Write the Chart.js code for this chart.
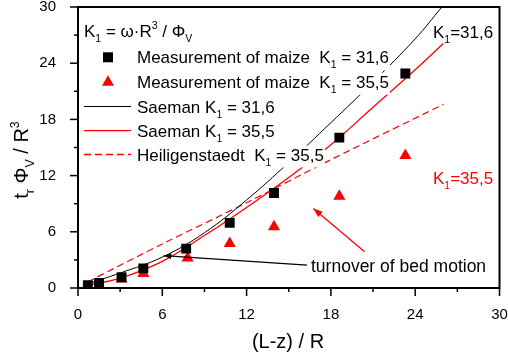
<!DOCTYPE html>
<html>
<head>
<meta charset="utf-8">
<script src="https://cdn.jsdelivr.net/npm/chart.js@4.4.1/dist/chart.umd.min.js"></script>
<style>
  body { margin: 0; background: #fff; }
</style>
</head>
<body>
<canvas id="chart" width="508" height="358"></canvas>
<script>
const xMaize316 = [0.7, 1.5, 3.1, 4.65, 7.7, 10.8, 13.95, 18.6, 23.3];
const yMaize316 = [0.3, 0.55, 1.15, 2.1, 4.2, 6.95, 10.15, 16.05, 22.9];
const xMaize355 = [1.5, 3.1, 4.65, 7.8, 10.8, 13.95, 18.6, 23.3];
const yMaize355 = [0.32, 0.95, 1.55, 3.2, 4.75, 6.55, 9.8, 14.15];

// model curves
const xSaeman316 = [0.7, 3, 6, 9, 12, 15, 18, 21, 24, 25.9];
const ySaeman316 = [0.45, 1.6, 3.3, 5.9, 9.4, 13.4, 17.65, 22.0, 26.6, 30];
const xSaeman355 = [0.7, 3, 6, 9, 12, 15, 18, 21, 24, 26];
const ySaeman355 = [0.3, 1.05, 2.85, 5.6, 8.6, 11.8, 15.3, 19.3, 23.3, 26.1];
const xHeilig = [0.7, 6, 12, 18, 26];
const yHeilig = [0.67, 4.7, 9.1, 13.7, 19.6];

// axis
const axisMin = 0;
const axisMax = 30;
const majorStep = 6;
const minorStep = 3;

const FONT = '"Liberation Sans", Arial, sans-serif';
const RED = '#ff0000';

function toPoints(xs, ys) {
  return xs.map((x, i) => ({ x: x, y: ys[i] }));
}

// text with sub- and superscripts: parts = [[text, 'n'|'sub'|'sup'], ...]
function richWidth(ctx, parts, size) {
  let w = 0;
  parts.forEach(([t, k]) => {
    ctx.font = (k === 'n' ? size : size * 0.62) + 'px ' + FONT;
    w += ctx.measureText(t).width;
  });
  return w;
}

function drawRich(ctx, parts, x, y, size, color, align) {
  const w = richWidth(ctx, parts, size);
  let cx = align === 'center' ? x - w / 2 : x;
  ctx.fillStyle = color;
  ctx.textBaseline = 'alphabetic';
  ctx.textAlign = 'left';
  parts.forEach(([t, k]) => {
    const s = k === 'n' ? size : size * 0.62;
    ctx.font = s + 'px ' + FONT;
    const dy = k === 'sub' ? size * 0.3 : (k === 'sup' ? -size * 0.45 : 0);
    ctx.fillText(t, cx, y + dy);
    cx += ctx.measureText(t).width;
  });
  return w;
}

function arrow(ctx, x1, y1, x2, y2, color, lw, head) {
  const a = Math.atan2(y2 - y1, x2 - x1);
  ctx.strokeStyle = color;
  ctx.fillStyle = color;
  ctx.lineWidth = lw;
  ctx.beginPath();
  ctx.moveTo(x1, y1);
  ctx.lineTo(x2, y2);
  ctx.stroke();
  ctx.beginPath();
  ctx.moveTo(x2, y2);
  ctx.lineTo(x2 - head * Math.cos(a - 0.35), y2 - head * Math.sin(a - 0.35));
  ctx.lineTo(x2 - head * Math.cos(a + 0.35), y2 - head * Math.sin(a + 0.35));
  ctx.closePath();
  ctx.fill();
}

// frame, ticks, titles, legend and annotations
const decorPlugin = {
  id: 'decor',
  afterDatasetsDraw(chart) {
    const ctx = chart.ctx;
    const area = chart.chartArea;
    const xs = chart.scales.x;
    const ys = chart.scales.y;
    ctx.save();

    // frame
    ctx.strokeStyle = '#000';
    ctx.lineWidth = 2;
    ctx.strokeRect(area.left, area.top, area.right - area.left, area.bottom - area.top);

    // ticks (outside, major + minor)
    ctx.lineWidth = 1.5;
    for (let v = axisMin; v <= axisMax; v += minorStep) {
      const len = v % majorStep === 0 ? 8 : 4;
      const px = xs.getPixelForValue(v);
      ctx.beginPath();
      ctx.moveTo(px, area.bottom);
      ctx.lineTo(px, area.bottom + len);
      ctx.stroke();
      const py = ys.getPixelForValue(v);
      ctx.beginPath();
      ctx.moveTo(area.left, py);
      ctx.lineTo(area.left - len, py);
      ctx.stroke();
    }

    // axis titles
    drawRich(ctx, [['(L-z) / R', 'n']], 288, 348, 20, '#000', 'center');
    ctx.save();
    ctx.translate(28, 160);
    ctx.rotate(-Math.PI / 2);
    drawRich(ctx, [['t', 'n'], ['r', 'sub'], [' \u03A6', 'n'], ['V', 'sub'], [' / R', 'n'], ['3', 'sup']], 0, 0, 20, '#000', 'center');
    ctx.restore();

    // legend
    const lx = 84;
    const tx = 137;
    const size = 17;
    const header = [['K', 'n'], ['1', 'sub'], [' = \u03C9\u00B7R', 'n'], ['3', 'sup'], [' / \u03A6', 'n'], ['V', 'sub']];
    ctx.fillStyle = '#fff';
    ctx.fillRect(lx - 1, 22, richWidth(ctx, header, size) + 2, 21);
    drawRich(ctx, header, lx, 37, size, '#000');

    const rows = [
      { parts: [['Measurement of maize  K', 'n'], ['1', 'sub'], [' = 31,6', 'n']], kind: 'square' },
      { parts: [['Measurement of maize  K', 'n'], ['1', 'sub'], [' = 35,5', 'n']], kind: 'triangle' },
      { parts: [['Saeman K', 'n'], ['1', 'sub'], [' = 31,6', 'n']], kind: 'black' },
      { parts: [['Saeman K', 'n'], ['1', 'sub'], [' = 35,5', 'n']], kind: 'red' },
      { parts: [['Heiligenstaedt  K', 'n'], ['1', 'sub'], [' = 35,5', 'n']], kind: 'dash' }
    ];
    const rowY = [57.3, 81.7, 106.5, 130.7, 154.5];
    rows.forEach((r, i) => {
      const cy = rowY[i];
      ctx.fillStyle = '#fff';
      ctx.fillRect(tx - 1, cy - 9, richWidth(ctx, r.parts, size) + 2, 22);
      drawRich(ctx, r.parts, tx, cy + 6, size, '#000');
      if (r.kind === 'square') {
        ctx.fillStyle = '#000';
        ctx.fillRect(103, cy - 5, 10, 10);
      } else if (r.kind === 'triangle') {
        ctx.fillStyle = RED;
        ctx.beginPath();
        ctx.moveTo(108, cy - 6.5);
        ctx.lineTo(114, cy + 4);
        ctx.lineTo(102, cy + 4);
        ctx.closePath();
        ctx.fill();
      } else {
        ctx.strokeStyle = r.kind === 'black' ? '#000' : RED;
        ctx.lineWidth = r.kind === 'black' ? 1 : 1.3;
        ctx.setLineDash(r.kind === 'dash' ? [7, 4] : []);
        ctx.beginPath();
        ctx.moveTo(lx, cy);
        ctx.lineTo(131, cy);
        ctx.stroke();
        ctx.setLineDash([]);
      }
    });

    // curve labels
    drawRich(ctx, [['K', 'n'], ['1', 'sub'], ['=31,6', 'n']], 433, 37.5, size, '#000');
    drawRich(ctx, [['K', 'n'], ['1', 'sub'], ['=35,5', 'n']], 433, 184, size, RED);

    // turnover of bed motion
    arrow(ctx, xs.getPixelForValue(16.3), ys.getPixelForValue(2.45),
      xs.getPixelForValue(6.1), ys.getPixelForValue(3.45), '#000', 1.2, 8);
    drawRich(ctx, [['turnover of bed motion', 'n']], 311, 272, 17.5, '#000');
    arrow(ctx, xs.getPixelForValue(20.4), ys.getPixelForValue(3.87),
      xs.getPixelForValue(16.75), ys.getPixelForValue(8.5), RED, 1.3, 10);

    ctx.restore();
  }
};

const tickFont = { family: FONT, size: 15 };

// keep the plot box where the figure has it, without room for end labels
function noPad(s) {
  s.paddingLeft = 0;
  s.paddingRight = 0;
  s.paddingTop = 0;
  s.paddingBottom = 0;
}

new Chart(document.getElementById('chart').getContext('2d'), {
  type: 'scatter',
  data: {
    datasets: [
      {
        data: toPoints(xMaize316, yMaize316),
        pointStyle: 'rect',
        pointRadius: 7,
        backgroundColor: '#000',
        borderWidth: 0,
        order: 0
      },
      {
        data: toPoints(xMaize355, yMaize355),
        pointStyle: 'triangle',
        pointRadius: 7,
        backgroundColor: RED,
        borderWidth: 0,
        order: 0
      },
      {
        data: toPoints(xSaeman316, ySaeman316),
        showLine: true,
        pointRadius: 0,
        borderColor: '#000',
        borderWidth: 1,
        tension: 0.4,
        order: 1
      },
      {
        data: toPoints(xSaeman355, ySaeman355),
        showLine: true,
        pointRadius: 0,
        borderColor: RED,
        borderWidth: 1.3,
        tension: 0.4,
        order: 1
      },
      {
        data: toPoints(xHeilig, yHeilig),
        showLine: true,
        pointRadius: 0,
        borderColor: RED,
        borderWidth: 1.2,
        borderDash: [7, 4],
        tension: 0.3,
        order: 1
      }
    ]
  },
  options: {
    responsive: false,
    animation: false,
    layout: { padding: { top: 7, right: 8.5, left: 0, bottom: 0 } },
    plugins: {
      legend: { display: false },
      tooltip: { enabled: false }
    },
    scales: {
      x: {
        type: 'linear',
        min: axisMin,
        max: axisMax,
        afterFit: s => { s.height = 70; noPad(s); },
        grid: { display: false },
        border: { display: false },
        ticks: {
          stepSize: minorStep,
          autoSkip: false,
          maxRotation: 0,
          padding: 10,
          color: '#000',
          font: tickFont,
          callback: v => (v % majorStep === 0 ? v : '')
        }
      },
      y: {
        type: 'linear',
        min: axisMin,
        max: axisMax,
        afterFit: s => { s.width = 78; noPad(s); },
        grid: { display: false },
        border: { display: false },
        ticks: {
          stepSize: minorStep,
          autoSkip: false,
          padding: 14,
          color: '#000',
          font: tickFont,
          callback: v => (v % majorStep === 0 ? v : '')
        }
      }
    }
  },
  plugins: [decorPlugin]
});
</script>
</body>
</html>
